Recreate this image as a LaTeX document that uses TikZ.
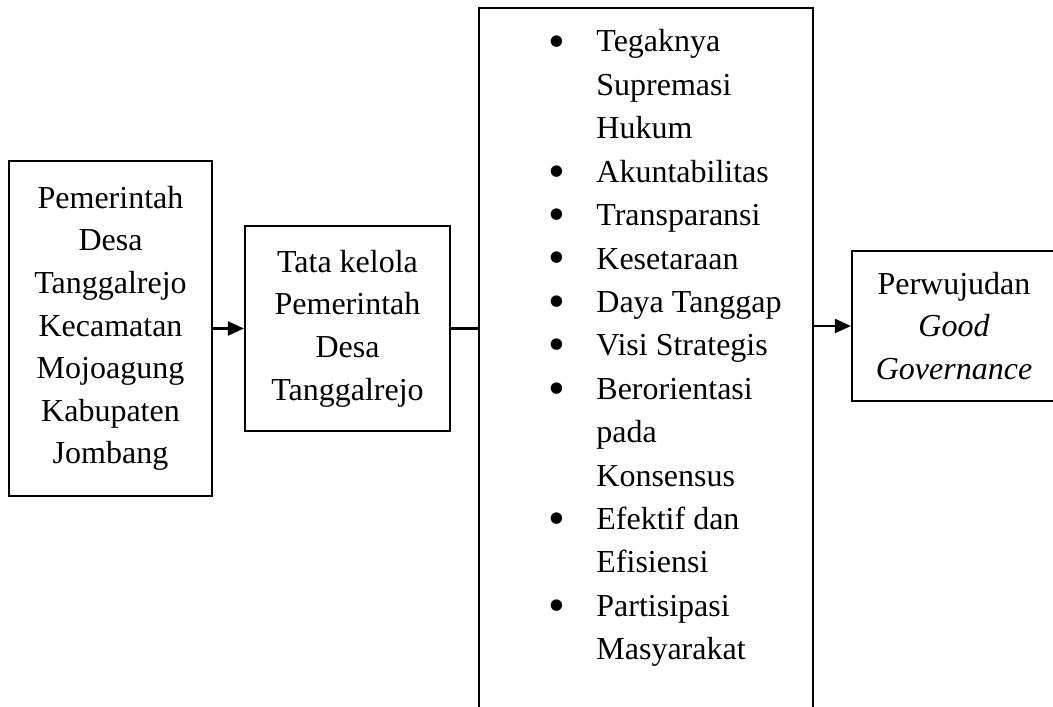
\documentclass[tikz,border=0pt]{standalone}
\usepackage{fontspec}
\setmainfont{Liberation Serif}
\usetikzlibrary{arrows.meta,positioning}
\newcommand{\blt}{\makebox[24pt][l]{\raisebox{-2.5pt}{\scalebox{1.5}{\textbullet}}}}

\begin{document}
\begin{tikzpicture}[x=0.5pt, y=-0.5pt,
    box/.style={rectangle, draw, line width=1.1pt, align=center, inner sep=0pt, font=\fontsize{16}{21.3}\selectfont},
    link/.style={line width=1.1pt},
    arr/.style={link, -{Triangle[length=8pt, width=7pt]}}
]
    \clip (0,0) rectangle (1053,706);

    % Left box
    \node[box, minimum width=101.5pt, minimum height=167.5pt] (desa) at (110.5,328.5)
        {Pemerintah\\Desa\\Tanggalrejo\\Kecamatan\\Mojoagung\\Kabupaten\\Jombang};

    % Governance box
    \node[box, minimum width=102.5pt, minimum height=102.5pt] (tatakelola) at (347.5,328.5)
        {Tata kelola\\Pemerintah\\Desa\\Tanggalrejo};

    % Tall principle box, runs past the bottom edge
    \node[box, minimum width=167pt, minimum height=376pt] (prinsip) at (646,384) {};
    \node[anchor=base west, inner sep=0pt, font=\fontsize{16}{21.7}\selectfont] (items) at (548,52) {%
        \begin{tabular}[t]{@{}l@{}l@{}}
        \blt & Tegaknya\\
             & Supremasi\\
             & Hukum\\
        \blt & Akuntabilitas\\
        \blt & Transparansi\\
        \blt & Kesetaraan\\
        \blt & Daya Tanggap\\
        \blt & Visi Strategis\\
        \blt & Berorientasi\\
             & pada\\
             & Konsensus\\
        \blt & Efektif dan\\
             & Efisiensi\\
        \blt & Partisipasi\\
             & Masyarakat
        \end{tabular}};

    % Result box
    \node[box, minimum width=102pt, minimum height=75pt] (wujud) at (954,326)
        {Perwujudan\\\textit{Good}\\\textit{Governance}};

    % Connectors
    \draw[arr] (desa.east) -- (tatakelola.west);
    \draw[link] (tatakelola.east) -- (tatakelola.east -| prinsip.west);
    \draw[arr] (prinsip.east |- wujud.west) -- (wujud.west);
\end{tikzpicture}
\end{document}
